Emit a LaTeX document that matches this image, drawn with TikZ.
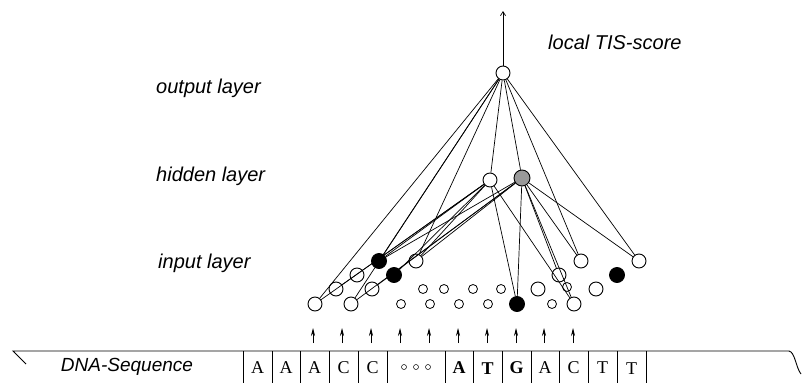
\documentclass[tikz,border=0pt]{standalone}
\usepackage{fontspec}
\setmainfont{Liberation Serif}
\setsansfont{Liberation Sans}
\usetikzlibrary{arrows.meta}
\begin{document}
\begin{tikzpicture}[x=1pt,y=-1pt,
  wn/.style={circle,draw,line width=0.9pt,minimum size=14pt,inner sep=0pt},
  bn/.style={circle,draw,fill=black,line width=0.9pt,minimum size=15pt,inner sep=0pt},
  gn/.style={circle,draw,fill=gray!80,line width=0.9pt,minimum size=16pt,inner sep=0pt},
  sn/.style={circle,draw,line width=0.8pt,minimum size=9pt,inner sep=0pt},
  lbl/.style={font=\sffamily\itshape\fontsize{20}{24}\selectfont,anchor=west,inner sep=0pt},
  cell/.style={font=\fontsize{18}{20}\selectfont,inner sep=0pt},
  wire/.style={line width=0.7pt},
  inarrow/.style={line width=0.7pt,-{Stealth[length=8pt,width=4pt]}},
  tiny/.style={circle,draw,line width=0.5pt,minimum size=5pt,inner sep=0pt}]
\useasboundingbox (0,0) rectangle (803,383);
% labels
\node[lbl] (tout) at (156,88) {output layer};
\node[lbl] (thid) at (156,176) {hidden layer};
\node[lbl] (tin) at (158,263) {input layer};
\node[lbl] (tscore) at (548,42) {local TIS-score};
% output and hidden
\node[wn] (O) at (503,73) {};
\node[wn] (H1) at (490,180) {};
\node[gn] (H2) at (522,178) {};
\coordinate (top) at (503,11);
% input column 1
\node[wn] (a1) at (315,304) {};
\node[wn] (a2) at (336,289) {};
\node[wn] (a3) at (357,275) {};
\node[bn] (a4) at (379,261) {};
% column 2
\node[wn] (b1) at (351,304) {};
\node[wn] (b2) at (372,289) {};
\node[bn] (b3) at (394,275) {};
\node[wn] (b4) at (416,261) {};
% small ones
\node[sn] (s1) at (401,304) {};
\node[sn] (s2) at (423,289) {};
\node[sn] (s3) at (430,304) {};
\node[sn] (s4) at (444,289) {};
\node[sn] (s5) at (459,304) {};
\node[sn] (s6) at (473,289) {};
\node[sn] (s7) at (488,304) {};
\node[sn] (s8) at (501,289) {};
% right columns
\node[bn] (c1) at (517,304) {};
\node[wn] (c2) at (538,289) {};
\node[wn] (c3) at (559,275) {};
\node[wn] (c4) at (581,261) {};
\node[sn] (t1) at (552,304) {};
\node[sn] (t2) at (567,287) {};
\node[wn] (d1) at (574,304) {};
\node[wn] (d2) at (596,289) {};
\node[bn] (d3) at (617,275) {};
\node[wn] (d4) at (639,261) {};
% connections
\draw[wire,-{Straight Barb[length=4pt,width=5pt]}] (O) -- (top);
\foreach \n in {a1,a4,b1,b4,H1,H2,c4,d4} \draw[wire] (O) -- (\n);
\foreach \n in {a1,a2,a4,b3,b4,c1,d1} \draw[wire] (H1) -- (\n);
\foreach \n in {a4,b1,b2,b4,c1,c3,d1,c4,d4} \draw[wire] (H2) -- (\n);
% arrows from sequence
\foreach \x [count=\i] in {313,342,371,400,429,458,487,516,544,573} {
  \coordinate (p\i) at (\x,343);
  \coordinate (q\i) at (\x,328);
  \draw[inarrow] (p\i) -- (q\i);
}
% sequence strip
\coordinate (L0) at (13,351);
\coordinate (L1) at (26,364);
\coordinate (R0) at (789,351);
\coordinate (R1) at (801,374);
\draw[line width=0.9pt] (L1) -- (L0) -- (R0) .. controls (795,352) and (796,368) .. (R1);
\foreach \x in {243,272,300,329,358,387,445,473,502,531,559,588,617,646}
  \draw[line width=0.7pt] (\x,351) -- (\x,383);
\node[font=\sffamily\itshape\fontsize{19}{22}\selectfont,inner sep=0pt] (dna) at (127,367) {DNA-Sequence};
\node[cell] (n1) at (257.5,368) {A};
\node[cell] (n2) at (286,368) {A};
\node[cell] (n3) at (314.5,368) {A};
\node[cell] (n4) at (343.5,368) {C};
\node[cell] (n5) at (372.5,368) {C};
\node[tiny] (e1) at (404,367) {};
\node[tiny] (e2) at (416,367) {};
\node[tiny] (e3) at (428,367) {};
\node[cell,font=\bfseries\fontsize{18}{20}\selectfont] (n6) at (459,368) {A};
\node[cell,font=\bfseries\fontsize{18}{20}\selectfont] (n7) at (487.5,369) {T};
\node[cell,font=\bfseries\fontsize{18}{20}\selectfont] (n8) at (516.5,368) {G};
\node[cell] (n9) at (545,368) {A};
\node[cell] (n10) at (573.5,368) {C};
\node[cell] (n11) at (602.5,368) {T};
\node[cell] (n12) at (631.5,369) {T};
\end{tikzpicture}
\end{document}
